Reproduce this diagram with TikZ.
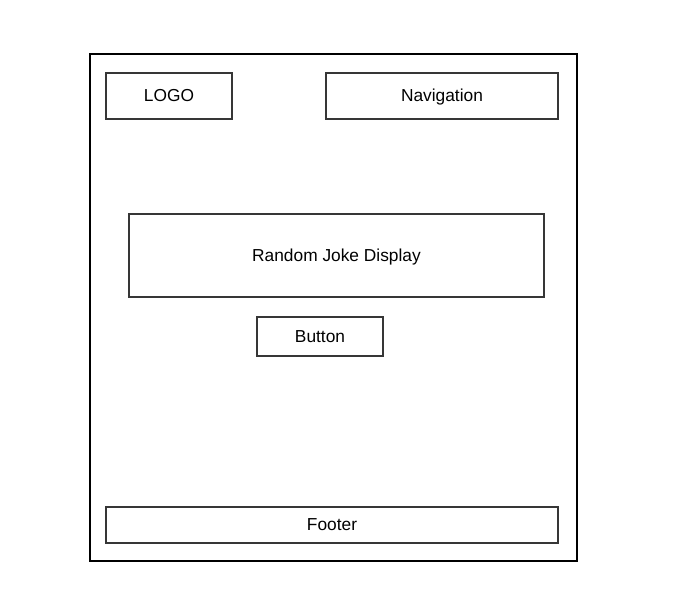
\documentclass[tikz,border=0pt]{standalone}
\usepackage{fontspec}
\setmainfont{Liberation Sans}
\usetikzlibrary{positioning}
\definecolor{boxgray}{RGB}{54,54,54}

\tikzset{
  part/.style={draw=boxgray,line width=0.9pt,inner sep=0pt,text height=0.84em,text depth=0pt,font=\fontsize{13}{15}\selectfont},
  page/.style={draw=black,line width=0.9pt,inner sep=0pt}
}

\begin{document}
\begin{tikzpicture}[x=0.75pt,y=-0.75pt]
\useasboundingbox (0,0) rectangle (681,615);
\node[page,minimum width=487*0.75pt,minimum height=507*0.75pt] (frame) at (333.5,307.5) {};
\node[part,minimum width=126*0.75pt,minimum height=46*0.75pt] (logo) at (169,96) {LOGO};
\node[part,minimum width=232*0.75pt,minimum height=46*0.75pt] (nav) at (442,96) {Navigation};
\node[part,minimum width=415*0.75pt,minimum height=83*0.75pt] (joke) at (336.5,255.5) {Random Joke Display};
\node[part,minimum width=126*0.75pt,minimum height=39*0.75pt] (button) at (320,336.5) {Button};
\node[part,minimum width=452*0.75pt,minimum height=36*0.75pt] (footer) at (332,525) {Footer};
\end{tikzpicture}
\end{document}
